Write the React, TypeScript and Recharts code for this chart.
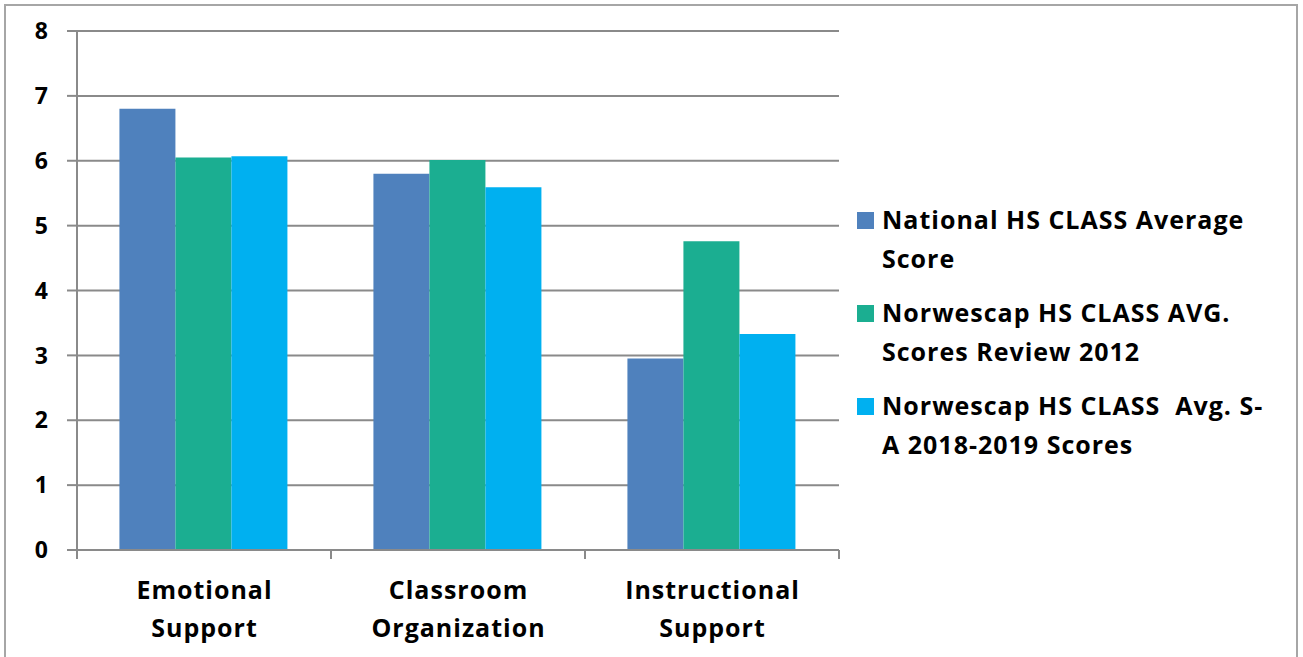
import { Bar, BarChart, CartesianGrid, XAxis, YAxis } from "recharts";

const categories = ["Emotional Support", "Classroom Organization", "Instructional Support"];
const categoryLines = [
  ["Emotional", "Support"],
  ["Classroom", "Organization"],
  ["Instructional", "Support"],
];
const nationalAvg = [6.8, 5.8, 2.95];
const review2012 = [6.05, 6.01, 4.76];
const sa2018 = [6.07, 5.59, 3.33];
const yTicks = [0, 1, 2, 3, 4, 5, 6, 7, 8];

const seriesNames = [
  "National HS CLASS Average Score",
  "Norwescap HS CLASS AVG. Scores Review 2012",
  "Norwescap HS CLASS  Avg. S-A 2018-2019 Scores",
];
const legendLines = [
  ["National HS CLASS Average", "Score"],
  ["Norwescap HS CLASS AVG.", "Scores Review 2012"],
  ["Norwescap HS CLASS\u00a0\u00a0Avg. S-", "A 2018-2019 Scores"],
];
const colors = ["#4F81BD", "#1BAE91", "#00B0F0"];

const data = categories.map((name, i) => ({
  name,
  national: nationalAvg[i],
  review: review2012[i],
  sa: sa2018[i],
}));

const FONT = "'Open Sans', sans-serif";
const GRID = "#8a8a8a";
const PLOT_LEFT = 77;
const PLOT_RIGHT = 839;
const BAND = (PLOT_RIGHT - PLOT_LEFT) / categories.length;

const CategoryTick = ({ x, y, index }: any) => {
  const lines = categoryLines[index] || [];
  return (
    <g>
      <line x1={x - BAND / 2} x2={x - BAND / 2} y1={y} y2={y + 9} stroke={GRID} strokeWidth={2} />
      {index === categories.length - 1 && (
        <line x1={x + BAND / 2} x2={x + BAND / 2} y1={y} y2={y + 9} stroke={GRID} strokeWidth={2} />
      )}
      {lines.map((t: string, i: number) => (
        <text
          key={i}
          x={x + 0.5}
          y={y + 49 + i * 38}
          textAnchor="middle"
          fontFamily={FONT}
          fontWeight={700}
          fontSize={25}
          letterSpacing={1}
          fill="#000"
        >
          {t}
        </text>
      ))}
    </g>
  );
};

const LegendBox = () => (
  <div
    style={{
      position: "absolute",
      left: 857,
      top: 200,
      fontFamily: FONT,
      fontWeight: 700,
      fontSize: 25,
      letterSpacing: 1,
      color: "#000",
    }}
  >
    {legendLines.map((lines, i) => (
      <div key={i} style={{ display: "flex", alignItems: "flex-start", marginBottom: 15 }}>
        <div
          style={{
            width: 17,
            height: 17,
            background: colors[i],
            marginTop: 12,
            marginRight: 8,
            flexShrink: 0,
          }}
          title={seriesNames[i]}
        />
        <div style={{ lineHeight: "39px", whiteSpace: "nowrap" }}>
          {lines.map((l, j) => (
            <div key={j}>{l}</div>
          ))}
        </div>
      </div>
    ))}
  </div>
);

export default function App() {
  return (
    <div
      style={{
        position: "absolute",
        left: 0,
        top: 0,
        width: 1303,
        height: 657,
        overflow: "hidden",
        background: "#fff",
      }}
    >
      <div
        style={{
          position: "absolute",
          left: 4,
          top: 4,
          width: 1290,
          height: 700,
          border: "2px solid #a6a6a6",
        }}
      />
      <BarChart
        width={1303}
        height={657}
        data={data}
        margin={{ top: 31, right: 1303 - PLOT_RIGHT, bottom: 7, left: 0 }}
        barCategoryGap="16.7%"
        barGap={0}
      >
        <CartesianGrid vertical={false} stroke={GRID} strokeWidth={2} />
        <YAxis
          domain={[0, 8]}
          ticks={yTicks}
          interval={0}
          width={PLOT_LEFT}
          tickSize={10}
          tickMargin={19}
          axisLine={{ stroke: GRID, strokeWidth: 2 }}
          tickLine={{ stroke: GRID, strokeWidth: 2 }}
          tick={{ fontFamily: FONT, fontWeight: 700, fontSize: 23, fill: "#000" }}
        />
        <XAxis
          dataKey="name"
          height={100}
          interval={0}
          tickSize={0}
          tickMargin={0}
          tickLine={false}
          axisLine={{ stroke: GRID, strokeWidth: 2 }}
          tick={<CategoryTick />}
        />
        <Bar dataKey="national" name={seriesNames[0]} fill={colors[0]} isAnimationActive={false} />
        <Bar dataKey="review" name={seriesNames[1]} fill={colors[1]} isAnimationActive={false} />
        <Bar dataKey="sa" name={seriesNames[2]} fill={colors[2]} isAnimationActive={false} />
      </BarChart>
      <LegendBox />
    </div>
  );
}
